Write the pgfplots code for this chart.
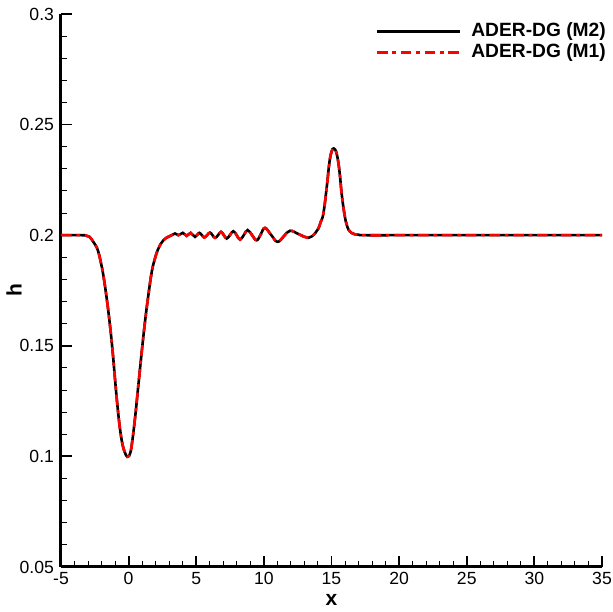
\documentclass[border=0pt]{standalone}
\usepackage{fontspec}
\setmainfont{Liberation Sans}
\usepackage{pgfplots}
\pgfplotsset{compat=1.18}

\pgfplotstableread{
x h
-5 0.2
-4 0.2
-3.5 0.2
-3.2 0.19995
-2.9 0.1993
-2.61 0.197
-2.42 0.1952
-2.24 0.1925
-2.05 0.1876
-1.87 0.1819
-1.62 0.1714
-1.38 0.1593
-1.18 0.1473
-1.01 0.1352
-0.83 0.1231
-0.64 0.1126
-0.44 0.1051
-0.19 0.1005
-0.03 0.1
0.1 0.1012
0.23 0.1051
0.47 0.1171
0.72 0.1322
0.97 0.1473
1.21 0.1608
1.46 0.1729
1.71 0.1834
1.95 0.1895
2.2 0.194
2.57 0.1977
2.94 0.1993
3.18 0.2
3.43 0.20075
3.68 0.2
4.0 0.20105
4.15 0.2004
4.29 0.1997
4.44 0.2004
4.59 0.20105
4.75 0.2001
4.91 0.19925
5.07 0.2001
5.23 0.20105
5.42 0.2
5.6 0.19895
5.81 0.2001
6.02 0.2012
6.2 0.2
6.39 0.1988
6.61 0.2
6.83 0.2015
7.04 0.2
7.25 0.1985
7.5 0.2001
7.74 0.2018
7.99 0.2
8.24 0.198
8.52 0.2001
8.8 0.2023
9.13 0.2
9.47 0.1977
9.78 0.2005
10.08 0.2033
10.54 0.2001
11.0 0.197
11.47 0.1995
11.93 0.202
12.6 0.2004
13.29 0.1988
13.78 0.2008
14.03 0.203
14.2 0.206
14.4 0.2098
14.65 0.2218
14.84 0.2326
15.0 0.2377
15.17 0.2392
15.38 0.2369
15.58 0.2294
15.75 0.2189
15.95 0.2098
16.17 0.2038
16.49 0.201
17.0 0.2002
17.5 0.2
20 0.2
25 0.2
30 0.2
35 0.2
}\depth

\begin{document}
\begin{tikzpicture}
\begin{axis}[
  width=270.5pt, height=276.5pt,
  scale only axis,
  xmin=-5, xmax=35,
  ymin=0.05, ymax=0.3,
  axis lines*=left,
  axis line style={line width=1.5pt},
  tick align=inside,
  major tick length=5.5pt,
  minor tick length=2.8pt,
  every tick/.style={black, line width=0.9pt},
  every minor tick/.style={black, line width=0.5pt},
  xtick={-5,0,5,10,15,20,25,30,35},
  xticklabels={-5,0,5,10,15,20,25,30,35},
  ytick={0.05,0.1,0.15,0.2,0.25,0.3},
  yticklabels={0.05,0.1,0.15,0.2,0.25,0.3},
  minor x tick num=4, minor y tick num=4,
  tick label style={font=\fontsize{8.8}{10}\selectfont},
  xticklabel style={yshift=1pt},
  xlabel={x}, ylabel={h},
  label style={font=\fontsize{10.5}{12}\selectfont\bfseries},
  x label style={at={(axis description cs:0.5,-0.0597)}, anchor=center},
  y label style={at={(axis description cs:-0.087,0.5)}, anchor=center},
  legend style={draw=none, fill=none, at={(0.57,0.999)}, anchor=north west,
    font=\fontsize{9.6}{11}\selectfont\bfseries, row sep=-2pt,
    nodes={inner xsep=5pt}},
  legend cell align=left,
  legend image code/.code={\draw[#1] (0pt,0pt) -- (41.5pt,0pt);},
]
\addplot[black, line width=1.3pt, smooth, tension=0.7] table[x=x, y=h] {\depth};
\addlegendentry{ADER-DG (M2)}
\addplot[red, line width=1.3pt, smooth, tension=0.7,
  dash pattern=on 5.3pt off 2.4pt on 1.8pt off 2.4pt] table[x=x, y=h] {\depth};
\addlegendentry{ADER-DG (M1)}
\end{axis}
\pgfresetboundingbox
\path ([xshift=-30.5pt,yshift=-22.5pt]current axis.south west) rectangle ([xshift=5.5pt,yshift=7pt]current axis.north east);
\end{tikzpicture}
\end{document}
